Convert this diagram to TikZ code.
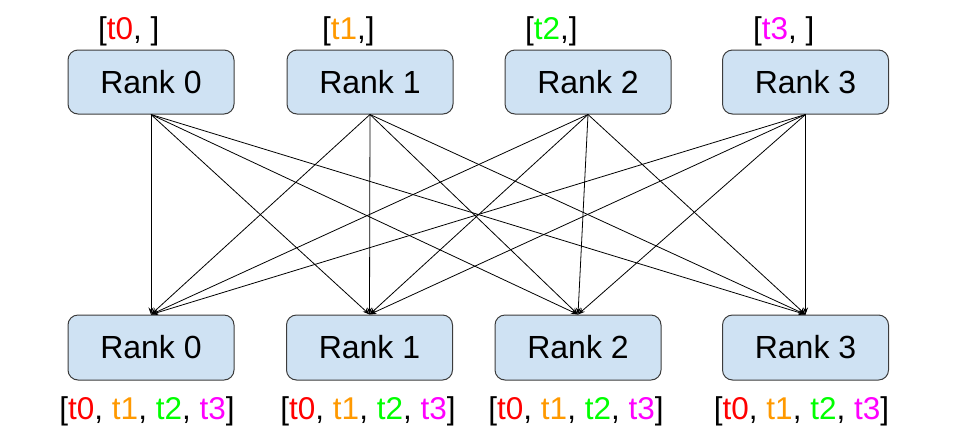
\documentclass[tikz,border=0pt]{standalone}
\usepackage{fontspec}
\setmainfont{Liberation Sans}
\usetikzlibrary{arrows.meta}
\definecolor{boxfill}{HTML}{CFE2F3}
\definecolor{boxdraw}{HTML}{3C3C3C}
\definecolor{tred}{HTML}{FF0000}
\definecolor{torange}{HTML}{FF9900}
\definecolor{tgreen}{HTML}{00FF00}
\definecolor{tmag}{HTML}{FF00FF}
\newcommand{\tkz}{\textcolor{tred}{t0}}
\newcommand{\tko}{\textcolor{torange}{t1}}
\newcommand{\tkw}{\textcolor{tgreen}{t2}}
\newcommand{\tkt}{\textcolor{tmag}{t3}}
\begin{document}
\begin{tikzpicture}[x=1pt,y=-1pt,
  rankbox/.style={draw=boxdraw,fill=boxfill,line width=1pt,rounded corners=10pt,
    minimum width=166pt,minimum height=64pt,inner sep=0pt,
    font=\fontsize{32}{36}\selectfont},
  toplabel/.style={anchor=west,inner sep=0pt,font=\fontsize{31.5}{36}\selectfont},
  botlabel/.style={anchor=center,inner sep=0pt,font=\fontsize{31.5}{36}\selectfont},
  conn/.style={line width=0.8pt,-{Stealth[length=7pt,width=5pt]}}]
\useasboundingbox (0,0) rectangle (957,429);
\node[rankbox] (a0) at (151,82) {Rank 0};
\node[rankbox] (a1) at (370,82) {Rank 1};
\node[rankbox] (a2) at (588,82) {Rank 2};
\node[rankbox] (a3) at (805.5,82) {Rank 3};
\node[rankbox,minimum height=65pt] (b0) at (151,347.5) {Rank 0};
\node[rankbox,minimum height=65pt] (b1) at (369.5,347.5) {Rank 1};
\node[rankbox,minimum height=65pt] (b2) at (578,347.5) {Rank 2};
\node[rankbox,minimum height=65pt] (b3) at (805.5,347.5) {Rank 3};
\node[toplabel] (l0) at (98,31.5) {[\tkz, ]};
\node[toplabel] (l1) at (322,31.5) {[\tko,]};
\node[toplabel] (l2) at (525,31.5) {[\tkw,]};
\node[toplabel] (l3) at (753,31.5) {[\tkt, ]};
\node[botlabel] (m0) at (147,411) {[\tkz, \tko, \tkw, \tkt]};
\node[botlabel] (m1) at (368,411) {[\tkz, \tko, \tkw, \tkt]};
\node[botlabel] (m2) at (576,411) {[\tkz, \tko, \tkw, \tkt]};
\node[botlabel] (m3) at (801.5,411) {[\tkz, \tko, \tkw, \tkt]};
\foreach \i in {0,1,2,3}{
  \foreach \j in {0,1,2,3}{
    \draw[conn] (a\i.south) -- (b\j.north);
  }
}
\end{tikzpicture}
\end{document}
